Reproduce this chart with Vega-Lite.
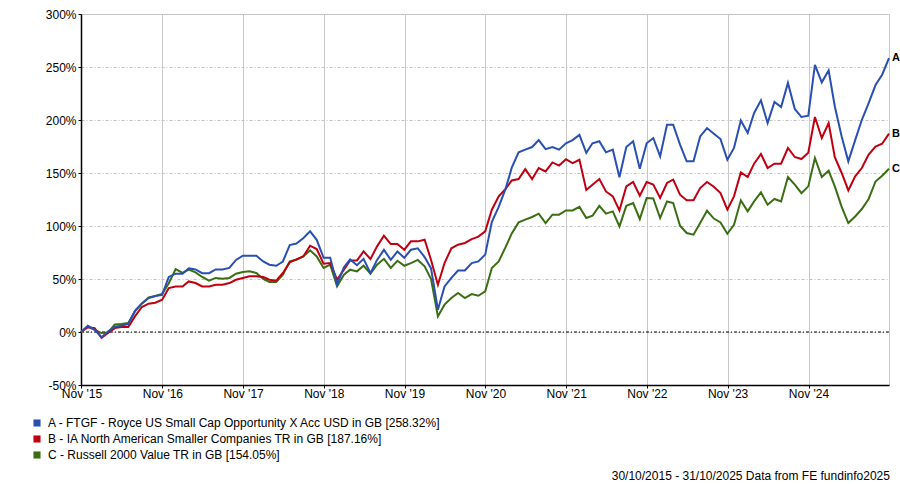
{
 "$schema": "https://vega.github.io/schema/vega-lite/v6.json",
 "width": 808,
 "height": 371,
 "autosize": {"type": "none"},
 "padding": {"left": 81, "top": 14, "right": 11, "bottom": 99},
 "background": "white",
 "config": {"font": "Liberation Sans", "view": {"stroke": "#c8c8c8"}},
 "title": {"text": "30/10/2015 - 31/10/2025 Data from FE fundinfo2025", "orient": "bottom", "anchor": "end", "fontSize": 12, "fontWeight": "normal", "color": "black", "offset": 10, "dx": -10},
 "data": {"values": [
  {"date":"2015-10-30","A":0,"B":0,"C":0},
  {"date":"2015-11-30","A":6,"B":4.5,"C":5},
  {"date":"2015-12-31","A":2,"B":3.5,"C":2},
  {"date":"2016-01-31","A":-5,"B":-5.5,"C":-1},
  {"date":"2016-02-29","A":0.5,"B":-1,"C":-0.5},
  {"date":"2016-03-31","A":5,"B":3.7,"C":7},
  {"date":"2016-04-30","A":6,"B":4.6,"C":7.5},
  {"date":"2016-05-31","A":7.5,"B":4.6,"C":8.5},
  {"date":"2016-06-30","A":20,"B":14.7,"C":19.4},
  {"date":"2016-07-31","A":27,"B":23.6,"C":26.7},
  {"date":"2016-08-31","A":32,"B":26.7,"C":32.6},
  {"date":"2016-09-30","A":34,"B":27.6,"C":34},
  {"date":"2016-10-31","A":35,"B":30.5,"C":36},
  {"date":"2016-11-30","A":52,"B":41.5,"C":46},
  {"date":"2016-12-31","A":55,"B":43,"C":59.4},
  {"date":"2017-01-31","A":55,"B":43,"C":55.7},
  {"date":"2017-02-28","A":60,"B":47.7,"C":58.8},
  {"date":"2017-03-31","A":59,"B":46.2,"C":56.2},
  {"date":"2017-04-30","A":55.5,"B":43,"C":51.9},
  {"date":"2017-05-31","A":55.5,"B":43,"C":48.4},
  {"date":"2017-06-30","A":59,"B":44.6,"C":51},
  {"date":"2017-07-31","A":59,"B":44.6,"C":50.3},
  {"date":"2017-08-31","A":60.5,"B":46.2,"C":51},
  {"date":"2017-09-30","A":68,"B":49.3,"C":55},
  {"date":"2017-10-31","A":72,"B":51,"C":56.6},
  {"date":"2017-11-30","A":72,"B":52.5,"C":57.2},
  {"date":"2017-12-31","A":72,"B":52.5,"C":55.7},
  {"date":"2018-01-31","A":66.5,"B":51.9,"C":50},
  {"date":"2018-02-28","A":63.5,"B":49.3,"C":47.2},
  {"date":"2018-03-31","A":62.5,"B":48.4,"C":47.2},
  {"date":"2018-04-30","A":66.5,"B":55.7,"C":54},
  {"date":"2018-05-31","A":82,"B":65.7,"C":66.6},
  {"date":"2018-06-30","A":83.5,"B":68.5,"C":68.2},
  {"date":"2018-07-31","A":88.5,"B":71.3,"C":71.3},
  {"date":"2018-08-31","A":95,"B":81.4,"C":77},
  {"date":"2018-09-30","A":87,"B":78.3,"C":71.3},
  {"date":"2018-10-31","A":70,"B":64.4,"C":60.4},
  {"date":"2018-11-30","A":70,"B":65,"C":63.5},
  {"date":"2018-12-31","A":45,"B":49.3,"C":43},
  {"date":"2019-01-31","A":61,"B":58.8,"C":54},
  {"date":"2019-02-28","A":68.5,"B":67.5,"C":58.8},
  {"date":"2019-03-31","A":63,"B":67.5,"C":57.2},
  {"date":"2019-04-30","A":69,"B":76,"C":62.5},
  {"date":"2019-05-31","A":55.5,"B":68.9,"C":55},
  {"date":"2019-06-30","A":68,"B":80.8,"C":63.5},
  {"date":"2019-07-31","A":77.5,"B":90.8,"C":69},
  {"date":"2019-08-31","A":68,"B":83,"C":60.4},
  {"date":"2019-09-30","A":76,"B":83,"C":67.2},
  {"date":"2019-10-31","A":70,"B":77.6,"C":62.5},
  {"date":"2019-11-30","A":77.6,"B":85.5,"C":65},
  {"date":"2019-12-31","A":79,"B":85.5,"C":68},
  {"date":"2020-01-31","A":70.7,"B":87,"C":62},
  {"date":"2020-02-29","A":60,"B":68,"C":50},
  {"date":"2020-03-31","A":21,"B":44.6,"C":14.7},
  {"date":"2020-04-30","A":43,"B":65,"C":25.8},
  {"date":"2020-05-31","A":51,"B":79,"C":32},
  {"date":"2020-06-30","A":58,"B":82.4,"C":36.8},
  {"date":"2020-07-31","A":58,"B":84,"C":32},
  {"date":"2020-08-31","A":65,"B":87.7,"C":35.8},
  {"date":"2020-09-30","A":66.6,"B":90,"C":34.2},
  {"date":"2020-10-31","A":73,"B":95,"C":38.3},
  {"date":"2020-11-30","A":104,"B":115.4,"C":60.4},
  {"date":"2020-12-31","A":118,"B":128,"C":66.6},
  {"date":"2021-01-31","A":135,"B":135,"C":80},
  {"date":"2021-02-28","A":155,"B":143,"C":93},
  {"date":"2021-03-31","A":169.5,"B":144.3,"C":103.4},
  {"date":"2021-04-30","A":172,"B":153.7,"C":106},
  {"date":"2021-05-31","A":174.5,"B":144.3,"C":108.5},
  {"date":"2021-06-30","A":181,"B":154.7,"C":111.6},
  {"date":"2021-07-31","A":172.5,"B":151.5,"C":102.8},
  {"date":"2021-08-31","A":174.5,"B":160,"C":110.7},
  {"date":"2021-09-30","A":172,"B":157,"C":110.7},
  {"date":"2021-10-31","A":178,"B":163,"C":114.7},
  {"date":"2021-11-30","A":181,"B":159.4,"C":114.7},
  {"date":"2021-12-31","A":186,"B":162.5,"C":118},
  {"date":"2022-01-31","A":169,"B":134,"C":107.5},
  {"date":"2022-02-28","A":178,"B":139,"C":109.7},
  {"date":"2022-03-31","A":180,"B":144.3,"C":119},
  {"date":"2022-04-30","A":169.5,"B":132.6,"C":111.6},
  {"date":"2022-05-31","A":172,"B":128,"C":113.8},
  {"date":"2022-06-30","A":146,"B":114.7,"C":99.6},
  {"date":"2022-07-31","A":174.5,"B":137.4,"C":119},
  {"date":"2022-08-31","A":180,"B":141.5,"C":121.7},
  {"date":"2022-09-30","A":154,"B":128.6,"C":106.6},
  {"date":"2022-10-31","A":178,"B":141.5,"C":126.4},
  {"date":"2022-11-30","A":183,"B":139,"C":126},
  {"date":"2022-12-31","A":165.7,"B":126.4,"C":107.5},
  {"date":"2023-01-31","A":195.6,"B":140.6,"C":123.2},
  {"date":"2023-02-28","A":195.6,"B":143.7,"C":121.7},
  {"date":"2023-03-31","A":176.7,"B":129.5,"C":100.3},
  {"date":"2023-04-30","A":161,"B":124.2,"C":93.4},
  {"date":"2023-05-31","A":161,"B":124.2,"C":91.8},
  {"date":"2023-06-30","A":184.5,"B":135.8,"C":102.8},
  {"date":"2023-07-31","A":192.4,"B":141.5,"C":114.4},
  {"date":"2023-08-31","A":187,"B":137,"C":107},
  {"date":"2023-09-30","A":182,"B":131,"C":103.4},
  {"date":"2023-10-31","A":162.5,"B":115.4,"C":92.7},
  {"date":"2023-11-30","A":173.6,"B":128,"C":101.2},
  {"date":"2023-12-31","A":199.6,"B":150.6,"C":124.2},
  {"date":"2024-01-31","A":187.7,"B":146.2,"C":113.8},
  {"date":"2024-02-29","A":206.6,"B":158.8,"C":123.2},
  {"date":"2024-03-31","A":218.5,"B":167.9,"C":131.7},
  {"date":"2024-04-30","A":197,"B":154.7,"C":120},
  {"date":"2024-05-31","A":217,"B":158.8,"C":125.5},
  {"date":"2024-06-30","A":212.3,"B":158.8,"C":123.2},
  {"date":"2024-07-31","A":235,"B":173.6,"C":146.2},
  {"date":"2024-08-31","A":210.4,"B":165.1,"C":139},
  {"date":"2024-09-30","A":202.8,"B":163.2,"C":131},
  {"date":"2024-10-31","A":204,"B":169.2,"C":137.4},
  {"date":"2024-11-30","A":252,"B":202.8,"C":164.2},
  {"date":"2024-12-31","A":235.5,"B":183,"C":146.2},
  {"date":"2025-01-31","A":246.8,"B":197.2,"C":152.2},
  {"date":"2025-02-28","A":212.8,"B":165,"C":137.4},
  {"date":"2025-03-31","A":184.5,"B":150,"C":118},
  {"date":"2025-04-30","A":161,"B":133.6,"C":102.8},
  {"date":"2025-05-31","A":181,"B":146.8,"C":109},
  {"date":"2025-06-30","A":200,"B":154.7,"C":116},
  {"date":"2025-07-31","A":216,"B":167.3,"C":125.5},
  {"date":"2025-08-31","A":233,"B":175,"C":142},
  {"date":"2025-09-30","A":242.7,"B":177.6,"C":147.5},
  {"date":"2025-10-31","A":258.32,"B":187.16,"C":154.05}
 ]},
 "layer": [
  {
   "data": {"values": [{"zero": 0}]},
   "mark": {"type": "rule", "color": "black", "strokeWidth": 1, "strokeDash": [3, 2, 1, 2]},
   "encoding": {"y": {"field": "zero", "type": "quantitative"}}
  },
  {
   "transform": [{"fold": ["C", "B", "A"], "as": ["series", "value"]}],
   "mark": {"type": "line", "strokeWidth": 2},
   "encoding": {
    "x": {
     "field": "date", "type": "temporal",
     "scale": {"type": "utc", "domain": [{"year": 2015, "month": 10, "date": 30, "utc": true}, {"year": 2025, "month": 10, "date": 31, "utc": true}]},
     "axis": {
      "title": null, "format": "%b '%y", "labelFontSize": 12, "labelColor": "black",
      "values": [
       {"year": 2015, "month": 11, "date": 1, "utc": true},
       {"year": 2016, "month": 11, "date": 1, "utc": true},
       {"year": 2017, "month": 11, "date": 1, "utc": true},
       {"year": 2018, "month": 11, "date": 1, "utc": true},
       {"year": 2019, "month": 11, "date": 1, "utc": true},
       {"year": 2020, "month": 11, "date": 1, "utc": true},
       {"year": 2021, "month": 11, "date": 1, "utc": true},
       {"year": 2022, "month": 11, "date": 1, "utc": true},
       {"year": 2023, "month": 11, "date": 1, "utc": true},
       {"year": 2024, "month": 11, "date": 1, "utc": true}
      ],
      "grid": true, "gridColor": "#c8c8c8", "gridWidth": 1,
      "domainColor": "black", "domainWidth": 1.5, "tickColor": "black", "tickSize": 3,
      "labelPadding": 0, "labelFlush": false, "labelOverlap": false
     }
    },
    "y": {
     "field": "value", "type": "quantitative",
     "scale": {"domain": [-50, 300], "nice": false, "zero": false},
     "axis": {
      "title": null, "values": [-50, 0, 50, 100, 150, 200, 250, 300],
      "labelExpr": "datum.value + '%'", "labelFontSize": 12, "labelColor": "black",
      "grid": true, "gridColor": "#c0c0c0", "gridDash": [3, 2, 1, 2],
      "domainColor": "black", "domainWidth": 1.5, "tickColor": "black", "tickSize": 3, "labelPadding": 2
     }
    },
    "color": {
     "field": "series", "type": "nominal",
     "scale": {"domain": ["A", "B", "C"], "range": ["#2a4fb2", "#c00010", "#3a6e12"]},
     "legend": {
      "orient": "none", "legendX": -50, "legendY": 403, "title": null,
      "symbolType": "square", "symbolSize": 50, "symbolStrokeWidth": 0,
      "labelFontSize": 12, "labelColor": "black", "labelLimit": 700, "rowPadding": 4, "labelOffset": 5,
      "labelExpr": "datum.label == 'A' ? 'A - FTGF - Royce US Small Cap Opportunity X Acc USD in GB [258.32%]' : datum.label == 'B' ? 'B - IA North American Smaller Companies TR in GB [187.16%]' : 'C - Russell 2000 Value TR in GB [154.05%]'",
      "encode": {"symbols": {"update": {"fill": {"scale": "color", "field": "value"}, "strokeWidth": {"value": 0}}}}
     }
    }
   }
  },
  {
   "transform": [
    {"fold": ["C", "B", "A"], "as": ["series", "value"]},
    {"filter": {"field": "date", "equal": {"year": 2025, "month": 10, "date": 31, "utc": true}}}
   ],
   "mark": {"type": "text", "align": "left", "dx": 3, "fontWeight": "bold", "fontSize": 11, "color": "black"},
   "encoding": {
    "x": {"field": "date", "type": "temporal"},
    "y": {"field": "value", "type": "quantitative"},
    "text": {"field": "series"}
   }
  }
 ]
}
